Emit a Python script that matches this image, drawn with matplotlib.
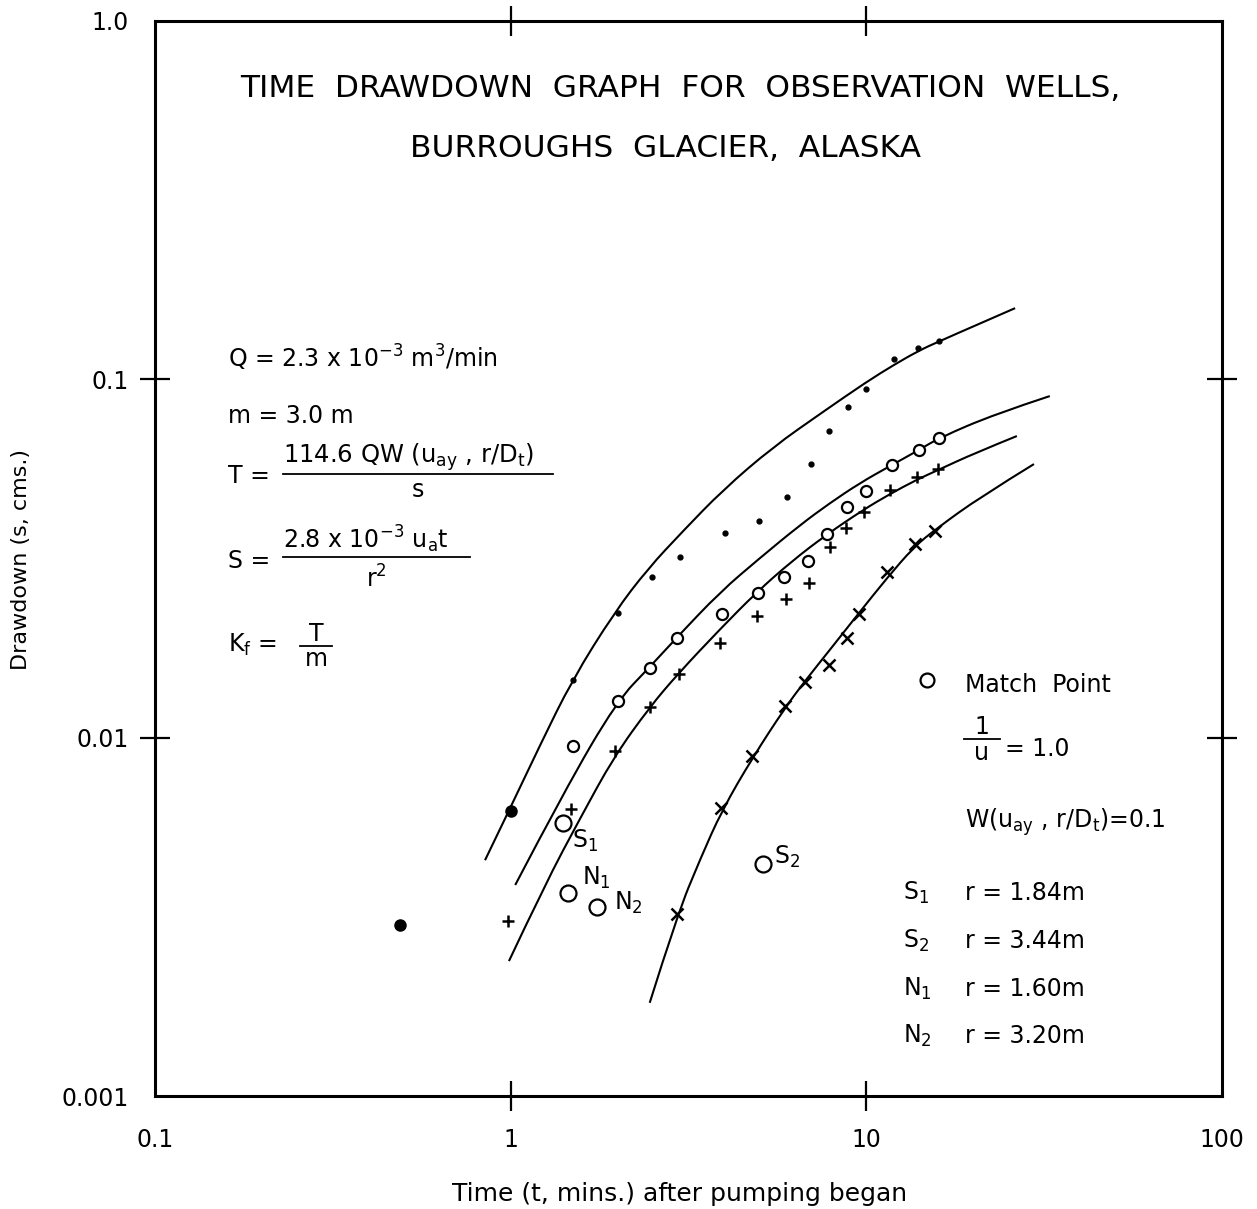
import numpy as np
import matplotlib.pyplot as plt
from matplotlib.lines import Line2D
from matplotlib.patches import PathPatch
from matplotlib.path import Path
from matplotlib.transforms import IdentityTransform
from matplotlib.ticker import NullLocator

plt.rcParams['font.family'] = 'DejaVu Sans'
plt.rcParams['mathtext.default'] = 'regular'

# observed drawdown, well group with small dots
dot_t = [1.5, 2, 2.5, 3, 4, 5, 6, 7, 7.85, 8.9, 10, 12, 14, 16]
dot_s = [0.0145, 0.0223, 0.0281, 0.0319, 0.0372, 0.0403, 0.0469, 0.0580,
         0.0719, 0.0838, 0.0941, 0.1139, 0.1223, 0.1281]
big_dot_t = [0.49, 1.0]
big_dot_s = [0.0030, 0.00625]

# small open circles
circ_t = [1.5, 2, 2.46, 2.94, 3.94, 4.97, 5.88, 6.84, 7.73, 8.82, 10, 11.8, 14.1, 16]
circ_s = [0.00949, 0.01268, 0.01567, 0.0190, 0.02213, 0.02538, 0.02802, 0.03111,
          0.03709, 0.04401, 0.04868, 0.05776, 0.06349, 0.06871]

# plus marks
plus_t = [0.98, 1.48, 1.96, 2.46, 2.97, 3.87, 4.93, 5.94, 6.9, 7.9, 8.76, 9.85, 11.65, 13.9, 15.9]
plus_s = [0.00308, 0.00632, 0.00919, 0.01215, 0.01505, 0.01833, 0.02181, 0.02432,
          0.02706, 0.03398, 0.03854, 0.04254, 0.04909, 0.05348, 0.05608]

# x marks
cross_t = [2.93, 3.91, 4.78, 5.91, 6.71, 7.86, 8.83, 9.53, 11.46, 13.71, 15.6]
cross_s = [0.00322, 0.00635, 0.00888, 0.01225, 0.01432, 0.01594, 0.0190, 0.02213,
           0.02904, 0.03463, 0.03772]

# match points
match_names = ['$S_1$', '$N_1$', '$N_2$', '$S_2$']
match_t = [1.40, 1.45, 1.75, 5.11]
match_s = [0.00579, 0.00369, 0.00337, 0.00444]

# type curves fitted to each well
curve_a_t = [0.847, 1.0, 1.21, 1.49, 1.96, 2.43, 3.05, 3.95, 5.46, 7.55, 10.0, 12.0, 14.0, 16.1, 26.2]
curve_a_s = [0.00455, 0.0064, 0.00954, 0.0145, 0.0224, 0.0296, 0.0377, 0.0491,
             0.0647, 0.0811, 0.0983, 0.110, 0.120, 0.128, 0.158]
curve_b_t = [1.03, 1.42, 1.99, 2.46, 2.94, 3.88, 5.02, 6.51, 7.90, 9.59, 11.65, 14.06, 16.0, 23.0, 32.8]
curve_b_s = [0.00388, 0.00714, 0.01265, 0.01574, 0.01909, 0.02549, 0.03172, 0.03921,
             0.04516, 0.05135, 0.05728, 0.06349, 0.06859, 0.0800, 0.0898]
curve_c_t = [0.989, 1.25, 1.57, 1.95, 2.46, 2.95, 3.88, 4.92, 6.18, 7.70, 9.78, 11.65,
             13.8, 15.9, 20.2, 26.5]
curve_c_s = [0.00238, 0.0039, 0.00597, 0.00883, 0.01217, 0.01505, 0.02009, 0.02549,
             0.03111, 0.03677, 0.04318, 0.04785, 0.05236, 0.05582, 0.06227, 0.06946]
curve_d_t = [2.46, 2.94, 3.41, 3.93, 4.80, 5.90, 6.72, 8.01, 9.53, 11.43, 13.6, 15.7, 20.9, 29.6]
curve_d_s = [0.00182, 0.0032, 0.00458, 0.00628, 0.00883, 0.01209, 0.01439, 0.0179,
             0.02227, 0.02789, 0.03404, 0.03823, 0.04693, 0.05801]

x_ticks = [0.1, 1, 10, 100]
x_labels = ['0.1', '1', '10', '100']
y_ticks = [0.001, 0.01, 0.1, 1]
y_labels = ['0.001', '0.01', '0.1', '1.0']

W, H = 1257, 1209


def fx(x):
    return x / W


def fy(y):
    return 1 - y / H


def put(x, y, s, size=17, ha='left'):
    fig.text(fx(x), fy(y), s, fontsize=size, ha=ha, va='baseline')


def rule(x0, x1, y):
    fig.add_artist(Line2D([fx(x0), fx(x1)], [fy(y), fy(y)],
                          transform=fig.transFigure, color='k', lw=1.3))


def smooth_curve(ax, t, s):
    # quadratic b-spline through the read points, drawn in display space
    pts = ax.transData.transform(np.column_stack([t, s]))
    verts = [pts[0]]
    codes = [Path.MOVETO]
    n = len(pts)
    for i in range(1, n - 1):
        end = (pts[i] + pts[i + 1]) / 2 if i < n - 2 else pts[n - 1]
        verts += [pts[i], end]
        codes += [Path.CURVE3, Path.CURVE3]
    patch = PathPatch(Path(verts, codes), fill=False, lw=1.5, ec='k')
    patch.set_transform(IdentityTransform())
    ax.add_artist(patch)


fig = plt.figure(figsize=(W / 100, H / 100), dpi=100)
ax = fig.add_axes([fx(155), fy(1096), (1222 - 155) / W, (1096 - 21) / H])
ax.set_xscale('log')
ax.set_yscale('log')
ax.set_xlim(0.1, 100)
ax.set_ylim(0.001, 1)

for spine in ax.spines.values():
    spine.set_linewidth(2.2)

ax.set_xticks(x_ticks)
ax.set_xticklabels(x_labels)
ax.set_yticks(y_ticks)
ax.set_yticklabels(y_labels)
ax.xaxis.set_minor_locator(NullLocator())
ax.yaxis.set_minor_locator(NullLocator())
ax.tick_params(direction='inout', length=22, width=1.6, top=True, right=True,
               labelsize=17)
ax.tick_params(axis='x', pad=12)
ax.tick_params(axis='y', pad=8)
# no tick marks in the corners
for ticks in (ax.xaxis.get_major_ticks(), ax.yaxis.get_major_ticks()):
    for tk in (ticks[0], ticks[-1]):
        tk.tick1line.set_visible(False)
        tk.tick2line.set_visible(False)

# curves
for ct, cs in ((curve_a_t, curve_a_s), (curve_b_t, curve_b_s),
               (curve_c_t, curve_c_s), (curve_d_t, curve_d_s)):
    smooth_curve(ax, ct, cs)

# observations
ax.plot(dot_t, dot_s, 'o', color='k', ms=3.5, ls='none')
ax.plot(big_dot_t, big_dot_s, 'o', color='k', ms=8, ls='none')
ax.plot(circ_t, circ_s, 'o', mfc='white', mec='k', mew=1.6, ms=8, ls='none')
ax.plot(plus_t, plus_s, '+', color='k', mew=1.8, ms=9, ls='none')
ax.plot(cross_t, cross_s, 'x', color='k', mew=1.8, ms=8, ls='none')
ax.plot(match_t, match_s, 'o', mfc='white', mec='k', mew=1.6, ms=11.5, ls='none')

offsets = [(7, -13), (10, 11), (12, 3), (8, 5)]
for name, t, s, off in zip(match_names, match_t, match_s, offsets):
    ax.annotate(name, (t, s), xytext=off, textcoords='offset points',
                fontsize=17, ha='left', va='center')

ax.set_xlabel('Time (t, mins.) after pumping began', fontsize=18)
ax.xaxis.set_label_coords((680 - 155) / 1067, (1096 - 1182) / 1075)
ax.set_ylabel('Drawdown (s, cms.)', fontsize=16)
ax.yaxis.set_label_coords((31 - 155) / 1067, (1096 - 560) / 1075)

# title
put(680, 97, 'TIME  DRAWDOWN  GRAPH  FOR  OBSERVATION  WELLS,', size=22.5, ha='center')
put(665, 157, 'BURROUGHS  GLACIER,  ALASKA', size=22.5, ha='center')

# pumping test parameters
put(228, 368, 'Q = 2.3 x 10$^{-3}$ m$^{3}$/min')
put(228, 423, 'm = 3.0 m')
put(228, 483, 'T =')
put(283, 463, '114.6 QW (u$_{ay}$ , r/D$_t$)', size=17.5)
rule(283, 553, 474)
put(418, 497, 's', ha='center')
put(228, 568, 'S =')
put(283, 548, '2.8 x 10$^{-3}$ u$_a$t')
rule(283, 470, 557)
put(376, 588, 'r$^2$', ha='center')
put(228, 652, 'K$_f$ =')
put(316, 641, 'T', ha='center')
rule(300, 332, 646)
put(316, 666, 'm', ha='center')

# match point values
fig.add_artist(Line2D([fx(927)], [fy(680)], marker='o', mfc='white', mec='k',
                      mew=1.6, ms=10, transform=fig.transFigure))
put(965, 692, 'Match  Point')
put(982, 734, '1', ha='center')
rule(964, 1000, 739)
put(982, 760, 'u', ha='center')
put(1005, 756, '= 1.0')
put(965, 828, 'W(u$_{ay}$ , r/D$_t$)=0.1')
for y, name, r in ((900, '$S_1$', 'r = 1.84m'), (948, '$S_2$', 'r = 3.44m'),
                   (996, '$N_1$', 'r = 1.60m'), (1043, '$N_2$', 'r = 3.20m')):
    put(903, y, name)
    put(965, y, r)

fig.savefig('out.png', dpi=100)
